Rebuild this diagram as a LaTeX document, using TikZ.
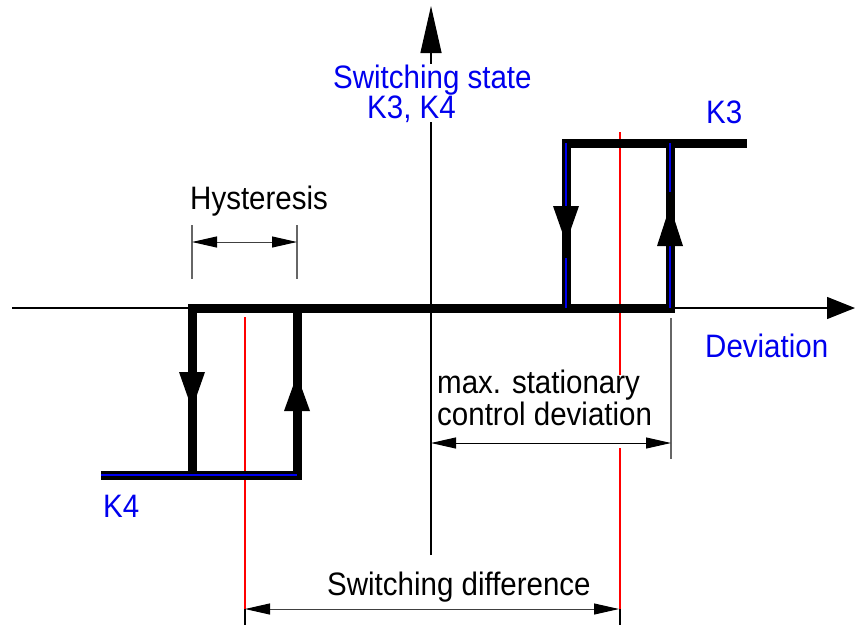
\documentclass[tikz,border=0pt]{standalone}
\usepackage{fontspec}
\setmainfont{Liberation Sans}
\usetikzlibrary{arrows.meta}
\definecolor{lblue}{RGB}{0,0,238}
\definecolor{lred}{RGB}{255,0,0}
\newcommand{\tallt}[1]{\scalebox{1}[1.1]{#1}}
\begin{document}
\begin{tikzpicture}[x=1pt,y=-1pt,
  axisline/.style={line width=1.2pt, black},
  curve/.style={line width=9pt, black},
  blueline/.style={line width=1.1pt, lblue},
  redline/.style={line width=1.2pt, lred},
  extline/.style={line width=1.1pt, black!60},
  dimline/.style={line width=1pt, black!75,
    {Triangle[length=25pt,width=11pt,color=black]}-{Triangle[length=25pt,width=11pt,color=black]}},
  lbl/.style={anchor=base west, inner sep=0pt, font=\fontsize{29.5}{33}\selectfont},
  blbl/.style={lbl, text=lblue},
  tip/.style={fill=black}
]
\useasboundingbox (0,0) rectangle (856,625);

% coordinates
\coordinate (ybot) at (431,555);
\coordinate (ytop) at (431,6);
\coordinate (xl) at (12,308);
\coordinate (xr) at (855,308);

% axes
\draw[axisline, -{Triangle[length=28pt,width=22pt]}] (xl) -- (xr);
\draw[axisline, -{Triangle[length=47pt,width=21pt]}] (ybot) -- (ytop);

% red lines
\draw[redline] (245,317) -- (245,609);
\draw[redline] (620,132) -- (620,375);
\draw[redline] (620,448) -- (620,609);
\draw[axisline] (245,609) -- (245,625);
\draw[axisline] (620,609) -- (620,625);

% characteristic
\coordinate (k4a) at (101,475);
\coordinate (k4b) at (192,475);
\coordinate (k4c) at (192,308);
\coordinate (k4d) at (297,475);
\coordinate (k4e) at (297,308);
\coordinate (k3a) at (566,308);
\coordinate (k3b) at (566,143);
\coordinate (k3c) at (670,308);
\coordinate (k3d) at (670,143);
\coordinate (k3e) at (747,143);
\draw[curve] (k4a) -- (k4b);
\draw[curve] (k4c) rectangle (k4d);
\draw[curve] (k4e) -- (k3a);
\draw[curve] (k3b) rectangle (k3c);
\draw[curve] (k3d) -- (k3e);

% blue lines
\draw[blueline] (566,143) -- (566,207);
\draw[blueline] (566,258) -- (566,308);
\draw[blueline] (670,143) -- (670,192);
\draw[blueline] (670,245) -- (670,308);
\draw[blueline] (101,475) -- (297,475);

% direction arrowheads
\fill[tip] (553,206) -- (579,206) -- (566,243) -- cycle;
\fill[tip] (657,246) -- (683,246) -- (670,206) -- cycle;
\fill[tip] (179,372) -- (205,372) -- (192,409) -- cycle;
\fill[tip] (284,411) -- (310,411) -- (297,375) -- cycle;

% hysteresis dimension
\coordinate (h1t) at (192,225);
\coordinate (h1b) at (192,279);
\coordinate (h2t) at (297,225);
\coordinate (h2b) at (297,279);
\draw[extline] (h1t) -- (h1b);
\draw[extline] (h2t) -- (h2b);
\draw[dimline] (192,242) -- (297,242);

% max stationary control deviation dimension
\draw[extline] (671,318) -- (671,459);
\draw[dimline, black] (431,443) -- (671,443);

% switching difference dimension
\draw[dimline] (245,609) -- (619,609);

% labels
\node[blbl, fill=white] (ss) at (333,88) {\tallt{Switching state}};
\node[blbl, fill=white] (k34) at (367,118) {\tallt{K3, K4}};
\node[blbl] (k3) at (706,123) {\tallt{K3}};
\node[blbl] (dev) at (705,357) {\tallt{Deviation}};
\node[blbl] (k4) at (103,517) {\tallt{K4}};
\node[lbl] (hys) at (190,209) {\tallt{Hysteresis}};
\node[lbl] (msd1) at (437,393) {\tallt{max. stationary}};
\node[lbl] (msd2) at (437,425) {\tallt{control deviation}};
\node[lbl] (swd) at (327,595) {\tallt{Switching difference}};
\end{tikzpicture}
\end{document}
